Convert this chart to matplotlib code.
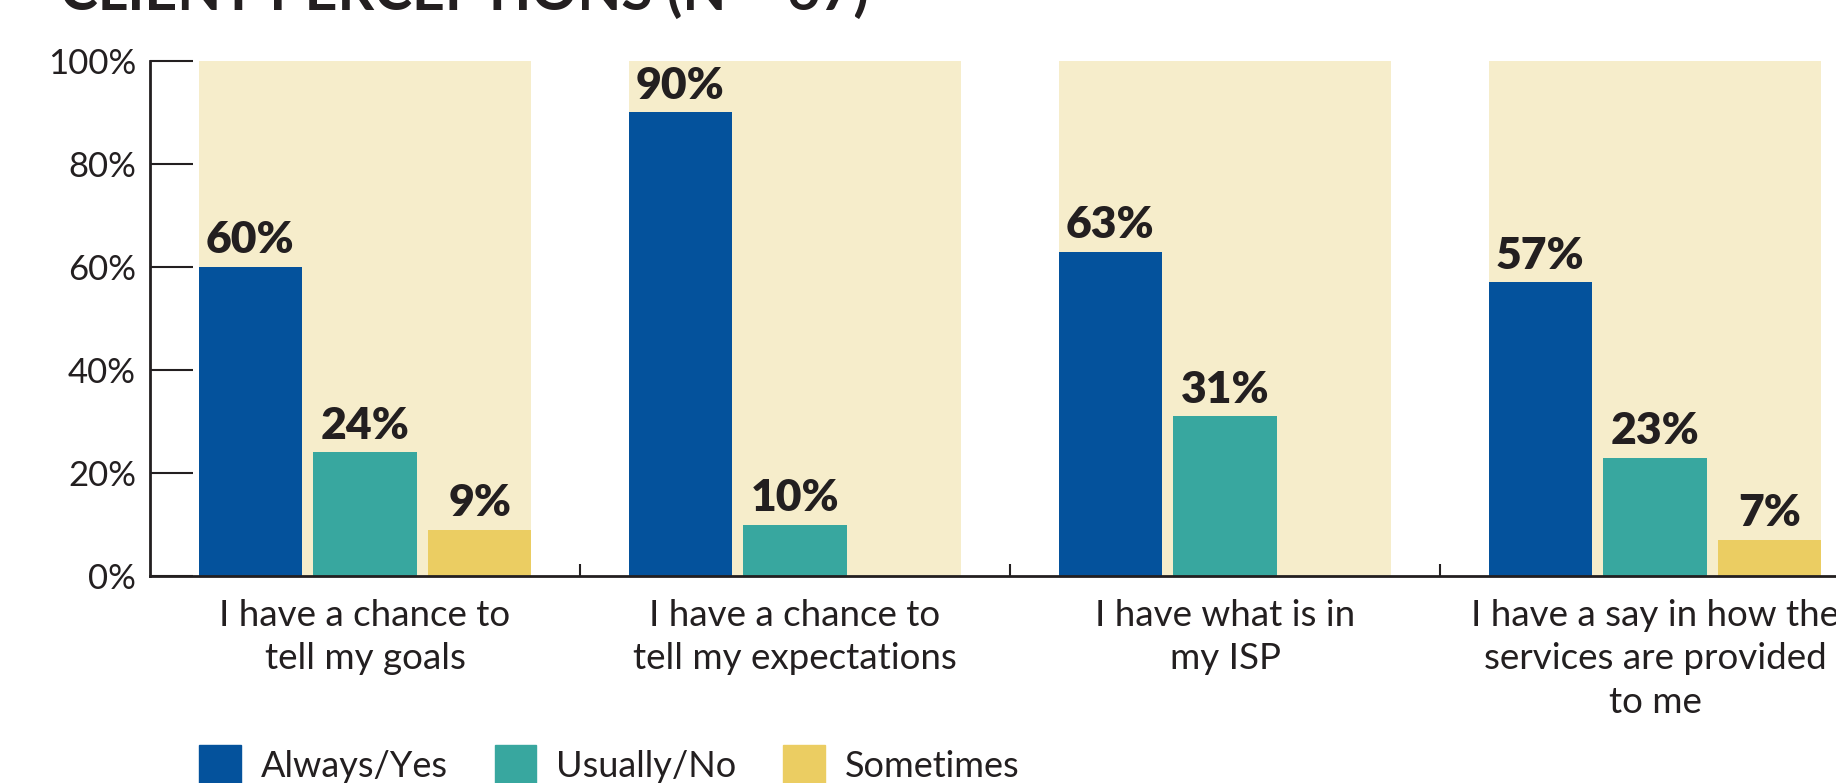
import matplotlib
matplotlib.use('Agg')
import matplotlib.pyplot as plt
from matplotlib.patches import Patch

# data
categories = ['I have a chance to\ntell my goals',
              'I have a chance to\ntell my expectations',
              'I have what is in\nmy ISP',
              'I have a say in how the\nservices are provided\nto me']
series = ['Always/Yes', 'Usually/No', 'Sometimes']
always_yes = [60, 90, 63, 57]
usually_no = [24, 10, 31, 23]
sometimes = [9, None, None, 7]
y_ticks = [0, 20, 40, 60, 80, 100]

colors = ['#04529C', '#38A79F', '#EBCD62']
panel_color = '#F6EDCB'
text_color = '#231F20'

plt.rcParams['font.family'] = ['Lato', 'DejaVu Sans']

W, H = 1836, 783
fig = plt.figure(figsize=(W / 100, H / 100), dpi=100)

# axes placed in pixels: y-axis at x=150, 0% at y=576, 100% at y=61
ax = fig.add_axes([150 / W, (H - 576) / H, 1720 / W, (576 - 61) / H])
ax.set_xlim(-0.5, 3.5)
ax.set_ylim(0, 100)

bw = 0.24
step = 0.267
for i in range(len(categories)):
    ax.bar(i, 100, width=2 * step + bw, color=panel_color, zorder=0)

for k, vals in enumerate([always_yes, usually_no, sometimes]):
    for i, v in enumerate(vals):
        if v is None:
            continue
        x = i + (k - 1) * step
        ax.bar(x, v, width=bw, color=colors[k], zorder=2)
        ax.text(x, v + 1.3, f'{v}%', ha='center', va='bottom',
                fontsize=32, fontweight='heavy', color=text_color, zorder=3)

for s in ['top', 'right']:
    ax.spines[s].set_visible(False)
for s in ['left', 'bottom']:
    ax.spines[s].set_linewidth(2)
    ax.spines[s].set_color(text_color)
    ax.spines[s].set_zorder(4)

ax.set_yticks(y_ticks)
ax.set_yticklabels([f'{t}%' for t in y_ticks])
ax.tick_params(axis='y', direction='in', length=31, width=1.5, pad=10,
               labelsize=25, colors=text_color)
ax.set_xticks([0.5, 1.5, 2.5])
ax.set_xticklabels([])
ax.tick_params(axis='x', direction='in', length=9, width=1.5, colors=text_color)

for i, c in enumerate(categories):
    ax.text(i, -4.5, c, ha='center', va='top', fontsize=26.5, color=text_color,
            linespacing=1.38)

# title (cut off at the top in the original)
fig.text(60 / W, 1 - 10 / H, 'CLIENT PERCEPTIONS (N = 67)', ha='left',
         va='baseline', fontsize=41, fontweight='bold', color=text_color)

handles = [Patch(color=c) for c in colors]
fig.legend(handles, series, loc='upper left', bbox_to_anchor=(185 / W, 1 - 731 / H),
           ncol=3, frameon=False, fontsize=26, handlelength=1.15, handleheight=1.3,
           handletextpad=0.55, columnspacing=1.3, labelcolor=text_color,
           borderaxespad=0)

fig.savefig('out.png', dpi=100)
